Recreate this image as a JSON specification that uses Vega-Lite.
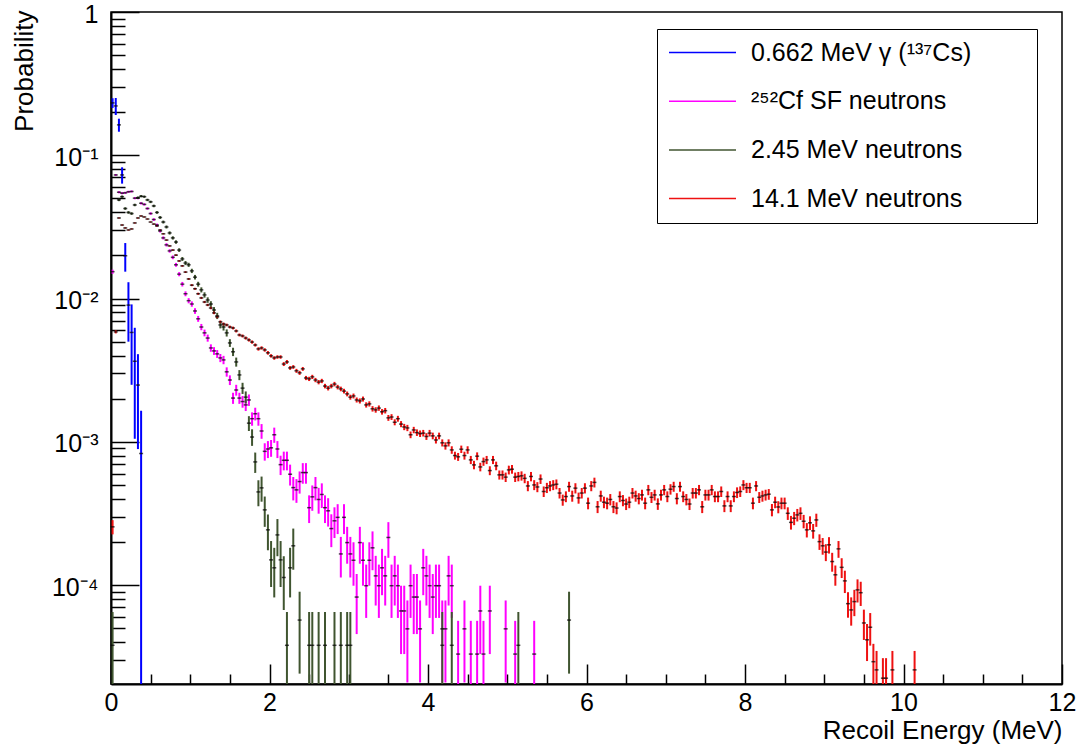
{
 "$schema": "https://vega.github.io/schema/vega-lite/v6.json",
 "width": 951, "height": 672,
 "autosize": {"type": "none"},
 "padding": {"left": 111, "top": 12, "right": 15, "bottom": 64},
 "background": "white",
 "config": {
  "font": "Liberation Sans",
  "view": {"stroke": "black", "strokeWidth": 1.5},
  "axis": {"grid": false, "domainColor": "black", "tickColor": "black", "labelColor": "black", "titleColor": "black", "labelFont": "Liberation Sans", "titleFont": "Liberation Sans", "titleFontWeight": "normal"}
 },
 "data": {"values": [
{"s":"g","x":0.02,"y":0.232,"e":0.018},
{"s":"g","x":0.06,"y":0.221,"e":0.03},
{"s":"g","x":0.1,"y":0.163,"e":0.017},
{"s":"g","x":0.14,"y":0.0729,"e":0.0095},
{"s":"g","x":0.18,"y":0.0199,"e":0.0045},
{"s":"g","x":0.22,"y":0.009,"e":0.004},
{"s":"g","x":0.26,"y":0.0058,"e":0.0033},
{"s":"g","x":0.3,"y":0.00365,"e":0.0026},
{"s":"g","x":0.34,"y":0.00249,"e":0.0016},
{"s":"g","x":0.38,"y":0.00083,"e":0.00082},
{"s":"cf","x":0.02,"y":0.0154,"e":5.0e-4},
{"s":"cf","x":0.06,"y":0.0729,"e":1.1e-3},
{"s":"cf","x":0.1,"y":0.0552,"e":9.5e-4},
{"s":"cf","x":0.14,"y":0.0544,"e":9.5e-4},
{"s":"cf","x":0.18,"y":0.0547,"e":9.5e-4},
{"s":"cf","x":0.22,"y":0.0556,"e":9.6e-4},
{"s":"cf","x":0.26,"y":0.0559,"e":9.6e-4},
{"s":"cf","x":0.3,"y":0.0502,"e":9.1e-4},
{"s":"cf","x":0.34,"y":0.0502,"e":9.1e-4},
{"s":"cf","x":0.38,"y":0.0462,"e":8.7e-4},
{"s":"cf","x":0.42,"y":0.0454,"e":8.7e-4},
{"s":"cf","x":0.46,"y":0.0425,"e":8.4e-4},
{"s":"cf","x":0.5,"y":0.0392,"e":8.0e-4},
{"s":"cf","x":0.54,"y":0.0356,"e":7.7e-4},
{"s":"cf","x":0.58,"y":0.0326,"e":7.3e-4},
{"s":"cf","x":0.62,"y":0.0296,"e":7.0e-4},
{"s":"cf","x":0.66,"y":0.0265,"e":6.6e-4},
{"s":"cf","x":0.7,"y":0.0237,"e":6.3e-4},
{"s":"cf","x":0.74,"y":0.0215,"e":6.0e-4},
{"s":"cf","x":0.78,"y":0.0194,"e":5.7e-4},
{"s":"cf","x":0.82,"y":0.0172,"e":5.3e-4},
{"s":"cf","x":0.86,"y":0.0148,"e":4.9e-4},
{"s":"cf","x":0.9,"y":0.0126,"e":4.6e-4},
{"s":"cf","x":0.94,"y":0.0108,"e":4.2e-4},
{"s":"cf","x":0.98,"y":0.00966,"e":4.0e-4},
{"s":"cf","x":1.02,"y":0.00916,"e":3.9e-4},
{"s":"cf","x":1.06,"y":0.00819,"e":3.7e-4},
{"s":"cf","x":1.1,"y":0.00722,"e":3.4e-4},
{"s":"cf","x":1.14,"y":0.00633,"e":3.2e-4},
{"s":"cf","x":1.18,"y":0.00576,"e":3.1e-4},
{"s":"cf","x":1.22,"y":0.0053,"e":3.0e-4},
{"s":"cf","x":1.26,"y":0.00452,"e":2.7e-4},
{"s":"cf","x":1.3,"y":0.00431,"e":2.7e-4},
{"s":"cf","x":1.34,"y":0.00411,"e":2.6e-4},
{"s":"cf","x":1.38,"y":0.00385,"e":2.5e-4},
{"s":"cf","x":1.42,"y":0.00373,"e":2.5e-4},
{"s":"cf","x":1.46,"y":0.00308,"e":2.3e-4},
{"s":"cf","x":1.5,"y":0.0027,"e":2.1e-4},
{"s":"cf","x":1.54,"y":0.00202,"e":1.8e-4},
{"s":"cf","x":1.58,"y":0.0023,"e":2.0e-4},
{"s":"cf","x":1.62,"y":0.00202,"e":1.8e-4},
{"s":"cf","x":1.66,"y":0.00191,"e":1.8e-4},
{"s":"cf","x":1.7,"y":0.00181,"e":1.7e-4},
{"s":"cf","x":1.74,"y":0.00196,"e":1.8e-4},
{"s":"cf","x":1.78,"y":0.00145,"e":1.55e-4},
{"s":"cf","x":1.82,"y":0.00157,"e":1.6e-4},
{"s":"cf","x":1.86,"y":0.00145,"e":1.55e-4},
{"s":"cf","x":1.9,"y":0.00119,"e":1.4e-4},
{"s":"cf","x":1.94,"y":8.58e-4,"e":1.19e-4},
{"s":"cf","x":1.98,"y":8.91e-4,"e":1.21e-4},
{"s":"cf","x":2.02,"y":9.08e-4,"e":1.22e-4},
{"s":"cf","x":2.06,"y":0.00112,"e":1.36e-4},
{"s":"cf","x":2.1,"y":8.91e-4,"e":1.21e-4},
{"s":"cf","x":2.14,"y":6.93e-4,"e":1.07e-4},
{"s":"cf","x":2.18,"y":7.43e-4,"e":1.11e-4},
{"s":"cf","x":2.22,"y":7.43e-4,"e":1.11e-4},
{"s":"cf","x":2.26,"y":5.94e-4,"e":9.9e-5},
{"s":"cf","x":2.3,"y":4.79e-4,"e":8.9e-5},
{"s":"cf","x":2.34,"y":4.62e-4,"e":8.7e-5},
{"s":"cf","x":2.38,"y":5.28e-4,"e":9.3e-5},
{"s":"cf","x":2.42,"y":6.1e-4,"e":1.0e-4},
{"s":"cf","x":2.46,"y":6.1e-4,"e":1.0e-4},
{"s":"cf","x":2.5,"y":3.47e-4,"e":7.6e-5},
{"s":"cf","x":2.54,"y":4.13e-4,"e":8.3e-5},
{"s":"cf","x":2.58,"y":4.79e-4,"e":8.9e-5},
{"s":"cf","x":2.62,"y":3.96e-4,"e":8.1e-5},
{"s":"cf","x":2.66,"y":4.29e-4,"e":8.4e-5},
{"s":"cf","x":2.7,"y":3.47e-4,"e":7.6e-5},
{"s":"cf","x":2.74,"y":3.3e-4,"e":7.4e-5},
{"s":"cf","x":2.78,"y":2.48e-4,"e":6.4e-5},
{"s":"cf","x":2.82,"y":2.81e-4,"e":6.8e-5},
{"s":"cf","x":2.86,"y":2.97e-4,"e":7.0e-5},
{"s":"cf","x":2.9,"y":1.65e-4,"e":5.2e-5},
{"s":"cf","x":2.94,"y":2.97e-4,"e":7.0e-5},
{"s":"cf","x":2.98,"y":1.98e-4,"e":5.7e-5},
{"s":"cf","x":3.02,"y":1.65e-4,"e":5.2e-5},
{"s":"cf","x":3.06,"y":1.49e-4,"e":5.0e-5},
{"s":"cf","x":3.1,"y":8.25e-5,"e":3.7e-5},
{"s":"cf","x":3.14,"y":1.98e-4,"e":5.7e-5},
{"s":"cf","x":3.18,"y":1.49e-4,"e":5.0e-5},
{"s":"cf","x":3.22,"y":9.9e-5,"e":4.0e-5},
{"s":"cf","x":3.26,"y":1.49e-4,"e":5.0e-5},
{"s":"cf","x":3.3,"y":1.82e-4,"e":5.5e-5},
{"s":"cf","x":3.34,"y":1.16e-4,"e":4.4e-5},
{"s":"cf","x":3.38,"y":9.9e-5,"e":4.0e-5},
{"s":"cf","x":3.42,"y":1.32e-4,"e":4.7e-5},
{"s":"cf","x":3.46,"y":1.16e-4,"e":4.4e-5},
{"s":"cf","x":3.5,"y":2.15e-4,"e":6.0e-5},
{"s":"cf","x":3.54,"y":9.9e-5,"e":4.0e-5},
{"s":"cf","x":3.58,"y":1.16e-4,"e":4.4e-5},
{"s":"cf","x":3.62,"y":9.9e-5,"e":4.0e-5},
{"s":"cf","x":3.66,"y":6.6e-5,"e":3.3e-5},
{"s":"cf","x":3.7,"y":6.6e-5,"e":3.3e-5},
{"s":"cf","x":3.74,"y":4.95e-5,"e":2.86e-5},
{"s":"cf","x":3.78,"y":9.9e-5,"e":4.0e-5},
{"s":"cf","x":3.82,"y":8.25e-5,"e":3.7e-5},
{"s":"cf","x":3.86,"y":8.25e-5,"e":3.7e-5},
{"s":"cf","x":3.9,"y":4.95e-5,"e":2.86e-5},
{"s":"cf","x":3.94,"y":1.32e-4,"e":4.7e-5},
{"s":"cf","x":3.98,"y":1.16e-4,"e":4.4e-5},
{"s":"cf","x":4.02,"y":9.9e-5,"e":4.0e-5},
{"s":"cf","x":4.06,"y":8.25e-5,"e":3.7e-5},
{"s":"cf","x":4.1,"y":9.9e-5,"e":4.0e-5},
{"s":"cf","x":4.14,"y":9.9e-5,"e":4.0e-5},
{"s":"cf","x":4.18,"y":4.95e-5,"e":2.86e-5},
{"s":"cf","x":4.22,"y":4.95e-5,"e":2.86e-5},
{"s":"cf","x":4.26,"y":1.16e-4,"e":4.4e-5},
{"s":"cf","x":4.3,"y":9.9e-5,"e":4.0e-5},
{"s":"cf","x":4.38,"y":3.3e-5,"e":2.33e-5},
{"s":"cf","x":4.46,"y":4.95e-5,"e":2.86e-5},
{"s":"cf","x":4.54,"y":3.3e-5,"e":2.33e-5},
{"s":"cf","x":4.62,"y":3.3e-5,"e":2.33e-5},
{"s":"cf","x":4.66,"y":6.6e-5,"e":3.3e-5},
{"s":"cf","x":4.7,"y":3.3e-5,"e":2.33e-5},
{"s":"cf","x":4.78,"y":6.6e-5,"e":3.3e-5},
{"s":"cf","x":4.98,"y":4.95e-5,"e":2.86e-5},
{"s":"cf","x":5.1,"y":3.3e-5,"e":2.33e-5},
{"s":"cf","x":5.34,"y":3.3e-5,"e":2.33e-5},
{"s":"n2","x":0.02,"y":3.8e-5,"e":2.69e-5},
{"s":"n2","x":0.1,"y":0.0488,"e":9.6e-4},
{"s":"n2","x":0.14,"y":0.0514,"e":9.9e-4},
{"s":"n2","x":0.18,"y":0.0425,"e":9.0e-4},
{"s":"n2","x":0.22,"y":0.0399,"e":8.7e-4},
{"s":"n2","x":0.26,"y":0.0392,"e":8.6e-4},
{"s":"n2","x":0.3,"y":0.045,"e":9.2e-4},
{"s":"n2","x":0.34,"y":0.0506,"e":9.8e-4},
{"s":"n2","x":0.38,"y":0.0518,"e":9.9e-4},
{"s":"n2","x":0.42,"y":0.0514,"e":9.9e-4},
{"s":"n2","x":0.46,"y":0.0488,"e":9.6e-4},
{"s":"n2","x":0.5,"y":0.0473,"e":9.5e-4},
{"s":"n2","x":0.54,"y":0.0443,"e":9.2e-4},
{"s":"n2","x":0.58,"y":0.0399,"e":8.7e-4},
{"s":"n2","x":0.62,"y":0.0368,"e":8.4e-4},
{"s":"n2","x":0.66,"y":0.0342,"e":8.1e-4},
{"s":"n2","x":0.7,"y":0.0316,"e":7.7e-4},
{"s":"n2","x":0.74,"y":0.0287,"e":7.4e-4},
{"s":"n2","x":0.78,"y":0.0265,"e":7.1e-4},
{"s":"n2","x":0.82,"y":0.0248,"e":6.9e-4},
{"s":"n2","x":0.86,"y":0.0218,"e":6.4e-4},
{"s":"n2","x":0.9,"y":0.0189,"e":6.0e-4},
{"s":"n2","x":0.94,"y":0.0177,"e":5.8e-4},
{"s":"n2","x":0.98,"y":0.0172,"e":5.7e-4},
{"s":"n2","x":1.02,"y":0.0156,"e":5.4e-4},
{"s":"n2","x":1.06,"y":0.0141,"e":5.2e-4},
{"s":"n2","x":1.1,"y":0.0126,"e":4.9e-4},
{"s":"n2","x":1.14,"y":0.0115,"e":4.7e-4},
{"s":"n2","x":1.18,"y":0.0106,"e":4.5e-4},
{"s":"n2","x":1.22,"y":0.00977,"e":4.3e-4},
{"s":"n2","x":1.26,"y":0.00916,"e":4.2e-4},
{"s":"n2","x":1.3,"y":0.00832,"e":4.0e-4},
{"s":"n2","x":1.34,"y":0.00757,"e":3.8e-4},
{"s":"n2","x":1.38,"y":0.00654,"e":3.5e-4},
{"s":"n2","x":1.42,"y":0.00633,"e":3.5e-4},
{"s":"n2","x":1.46,"y":0.00576,"e":3.3e-4},
{"s":"n2","x":1.5,"y":0.0049,"e":3.05e-4},
{"s":"n2","x":1.54,"y":0.00425,"e":2.84e-4},
{"s":"n2","x":1.58,"y":0.00361,"e":2.62e-4},
{"s":"n2","x":1.62,"y":0.00293,"e":2.36e-4},
{"s":"n2","x":1.66,"y":0.00237,"e":2.12e-4},
{"s":"n2","x":1.7,"y":0.00205,"e":1.97e-4},
{"s":"n2","x":1.74,"y":0.00135,"e":1.6e-4},
{"s":"n2","x":1.78,"y":0.00108,"e":1.43e-4},
{"s":"n2","x":1.82,"y":7.24e-4,"e":1.17e-4},
{"s":"n2","x":1.86,"y":4.47e-4,"e":9.2e-5},
{"s":"n2","x":1.9,"y":4.77e-4,"e":9.5e-5},
{"s":"n2","x":1.94,"y":3.35e-4,"e":8.0e-5},
{"s":"n2","x":1.98,"y":2.43e-4,"e":6.8e-5},
{"s":"n2","x":2.02,"y":1.5e-4,"e":5.3e-5},
{"s":"n2","x":2.06,"y":1.32e-4,"e":5.0e-5},
{"s":"n2","x":2.1,"y":2.24e-4,"e":6.5e-5},
{"s":"n2","x":2.14,"y":1.5e-4,"e":5.3e-5},
{"s":"n2","x":2.18,"y":1.13e-4,"e":4.6e-5},
{"s":"n2","x":2.22,"y":3.8e-5,"e":2.69e-5},
{"s":"n2","x":2.26,"y":1.32e-4,"e":5.0e-5},
{"s":"n2","x":2.3,"y":1.88e-4,"e":6.0e-5},
{"s":"n2","x":2.38,"y":5.7e-5,"e":3.29e-5},
{"s":"n2","x":2.5,"y":3.8e-5,"e":2.69e-5},
{"s":"n2","x":2.54,"y":3.8e-5,"e":2.69e-5},
{"s":"n2","x":2.62,"y":3.8e-5,"e":2.69e-5},
{"s":"n2","x":2.7,"y":3.8e-5,"e":2.69e-5},
{"s":"n2","x":2.82,"y":3.8e-5,"e":2.69e-5},
{"s":"n2","x":2.9,"y":3.8e-5,"e":2.69e-5},
{"s":"n2","x":2.98,"y":3.8e-5,"e":2.69e-5},
{"s":"n2","x":3.02,"y":3.8e-5,"e":2.69e-5},
{"s":"n2","x":4.18,"y":3.8e-5,"e":2.69e-5},
{"s":"n2","x":4.3,"y":3.8e-5,"e":2.69e-5},
{"s":"n2","x":5.14,"y":3.8e-5,"e":2.69e-5},
{"s":"n2","x":5.78,"y":5.7e-5,"e":3.29e-5},
{"s":"n14","x":0.02,"y":2.55e-4,"e":2.9e-5},
{"s":"n14","x":0.06,"y":5.85e-3,"e":1.4e-4},
{"s":"n14","x":0.1,"y":0.0365,"e":3.4e-4},
{"s":"n14","x":0.14,"y":0.0326,"e":3.2e-4},
{"s":"n14","x":0.18,"y":0.0311,"e":3.2e-4},
{"s":"n14","x":0.22,"y":0.0301,"e":3.1e-4},
{"s":"n14","x":0.26,"y":0.0306,"e":3.1e-4},
{"s":"n14","x":0.3,"y":0.0337,"e":3.3e-4},
{"s":"n14","x":0.34,"y":0.0365,"e":3.4e-4},
{"s":"n14","x":0.38,"y":0.0377,"e":3.5e-4},
{"s":"n14","x":0.42,"y":0.0371,"e":3.4e-4},
{"s":"n14","x":0.46,"y":0.0359,"e":3.4e-4},
{"s":"n14","x":0.5,"y":0.0342,"e":3.3e-4},
{"s":"n14","x":0.54,"y":0.0331,"e":3.3e-4},
{"s":"n14","x":0.58,"y":0.0321,"e":3.2e-4},
{"s":"n14","x":0.62,"y":0.0301,"e":3.1e-4},
{"s":"n14","x":0.66,"y":0.0283,"e":3.0e-4},
{"s":"n14","x":0.7,"y":0.0256,"e":2.9e-4},
{"s":"n14","x":0.74,"y":0.0233,"e":2.7e-4},
{"s":"n14","x":0.78,"y":0.0218,"e":2.6e-4},
{"s":"n14","x":0.82,"y":0.0201,"e":2.5e-4},
{"s":"n14","x":0.86,"y":0.0183,"e":2.4e-4},
{"s":"n14","x":0.9,"y":0.0169,"e":2.3e-4},
{"s":"n14","x":0.94,"y":0.0153,"e":2.2e-4},
{"s":"n14","x":0.98,"y":0.0137,"e":2.1e-4},
{"s":"n14","x":1.02,"y":0.0124,"e":2.0e-4},
{"s":"n14","x":1.06,"y":0.0117,"e":1.9e-4},
{"s":"n14","x":1.1,"y":0.0108,"e":1.9e-4},
{"s":"n14","x":1.14,"y":0.0101,"e":1.8e-4},
{"s":"n14","x":1.18,"y":0.00946,"e":1.7e-4},
{"s":"n14","x":1.22,"y":0.00902,"e":1.7e-4},
{"s":"n14","x":1.26,"y":0.00859,"e":1.7e-4},
{"s":"n14","x":1.3,"y":0.00794,"e":1.6e-4},
{"s":"n14","x":1.34,"y":0.00745,"e":1.5e-4},
{"s":"n14","x":1.38,"y":0.00688,"e":1.5e-4},
{"s":"n14","x":1.42,"y":0.00665,"e":1.5e-4},
{"s":"n14","x":1.46,"y":0.00654,"e":1.4e-4},
{"s":"n14","x":1.5,"y":0.00633,"e":1.4e-4},
{"s":"n14","x":1.54,"y":0.00623,"e":1.4e-4},
{"s":"n14","x":1.58,"y":0.00594,"e":1.4e-4},
{"s":"n14","x":1.62,"y":0.00557,"e":1.3e-4},
{"s":"n14","x":1.66,"y":0.00548,"e":1.3e-4},
{"s":"n14","x":1.7,"y":0.0053,"e":1.3e-4},
{"s":"n14","x":1.74,"y":0.00514,"e":1.3e-4},
{"s":"n14","x":1.78,"y":0.00497,"e":1.3e-4},
{"s":"n14","x":1.82,"y":0.00474,"e":1.2e-4},
{"s":"n14","x":1.86,"y":0.00445,"e":1.2e-4},
{"s":"n14","x":1.9,"y":0.00452,"e":1.2e-4},
{"s":"n14","x":1.94,"y":0.00438,"e":1.2e-4},
{"s":"n14","x":1.98,"y":0.00418,"e":1.2e-4},
{"s":"n14","x":2.02,"y":0.00398,"e":1.1e-4},
{"s":"n14","x":2.06,"y":0.00385,"e":1.1e-4},
{"s":"n14","x":2.1,"y":0.00391,"e":1.1e-4},
{"s":"n14","x":2.14,"y":0.00391,"e":1.1e-4},
{"s":"n14","x":2.18,"y":0.00349,"e":1.1e-4},
{"s":"n14","x":2.22,"y":0.00361,"e":1.1e-4},
{"s":"n14","x":2.26,"y":0.00328,"e":1.0e-4},
{"s":"n14","x":2.3,"y":0.00333,"e":1.0e-4},
{"s":"n14","x":2.34,"y":0.00313,"e":1.0e-4},
{"s":"n14","x":2.38,"y":0.00303,"e":9.8e-5},
{"s":"n14","x":2.42,"y":0.00323,"e":1.0e-4},
{"s":"n14","x":2.46,"y":0.00279,"e":9.4e-5},
{"s":"n14","x":2.5,"y":0.00275,"e":9.4e-5},
{"s":"n14","x":2.54,"y":0.00284,"e":9.5e-5},
{"s":"n14","x":2.58,"y":0.0027,"e":9.3e-5},
{"s":"n14","x":2.62,"y":0.00261,"e":9.1e-5},
{"s":"n14","x":2.66,"y":0.00266,"e":9.2e-5},
{"s":"n14","x":2.7,"y":0.00245,"e":8.9e-5},
{"s":"n14","x":2.74,"y":0.00237,"e":8.7e-5},
{"s":"n14","x":2.78,"y":0.00245,"e":8.9e-5},
{"s":"n14","x":2.82,"y":0.00253,"e":9.0e-5},
{"s":"n14","x":2.86,"y":0.00241,"e":8.8e-5},
{"s":"n14","x":2.9,"y":0.00234,"e":8.7e-5},
{"s":"n14","x":2.94,"y":0.00226,"e":8.5e-5},
{"s":"n14","x":2.98,"y":0.00216,"e":8.3e-5},
{"s":"n14","x":3.02,"y":0.00205,"e":8.1e-5},
{"s":"n14","x":3.06,"y":0.00209,"e":8.2e-5},
{"s":"n14","x":3.1,"y":0.00196,"e":7.9e-5},
{"s":"n14","x":3.14,"y":0.00193,"e":7.9e-5},
{"s":"n14","x":3.18,"y":0.00199,"e":8.0e-5},
{"s":"n14","x":3.22,"y":0.00181,"e":7.6e-5},
{"s":"n14","x":3.26,"y":0.00184,"e":7.7e-5},
{"s":"n14","x":3.3,"y":0.0017,"e":7.4e-5},
{"s":"n14","x":3.34,"y":0.00167,"e":7.3e-5},
{"s":"n14","x":3.38,"y":0.00172,"e":7.4e-5},
{"s":"n14","x":3.42,"y":0.00162,"e":7.2e-5},
{"s":"n14","x":3.46,"y":0.00165,"e":7.3e-5},
{"s":"n14","x":3.5,"y":0.00147,"e":6.9e-5},
{"s":"n14","x":3.54,"y":0.00149,"e":6.9e-5},
{"s":"n14","x":3.58,"y":0.00137,"e":6.6e-5},
{"s":"n14","x":3.62,"y":0.00145,"e":6.8e-5},
{"s":"n14","x":3.66,"y":0.00133,"e":6.5e-5},
{"s":"n14","x":3.7,"y":0.00127,"e":6.4e-5},
{"s":"n14","x":3.74,"y":0.00125,"e":6.3e-5},
{"s":"n14","x":3.78,"y":0.00112,"e":6.0e-5},
{"s":"n14","x":3.82,"y":0.00121,"e":6.2e-5},
{"s":"n14","x":3.86,"y":0.00116,"e":6.1e-5},
{"s":"n14","x":3.9,"y":0.00114,"e":6.0e-5},
{"s":"n14","x":3.94,"y":0.00115,"e":6.1e-5},
{"s":"n14","x":3.98,"y":0.00109,"e":5.9e-5},
{"s":"n14","x":4.02,"y":0.00115,"e":6.1e-5},
{"s":"n14","x":4.06,"y":0.0011,"e":5.9e-5},
{"s":"n14","x":4.1,"y":0.00103,"e":5.7e-5},
{"s":"n14","x":4.14,"y":0.0011,"e":5.9e-5},
{"s":"n14","x":4.18,"y":9.84e-4,"e":5.6e-5},
{"s":"n14","x":4.22,"y":9.37e-4,"e":5.5e-5},
{"s":"n14","x":4.26,"y":9.84e-4,"e":5.6e-5},
{"s":"n14","x":4.3,"y":8.78e-4,"e":5.3e-5},
{"s":"n14","x":4.34,"y":8.02e-4,"e":5.1e-5},
{"s":"n14","x":4.38,"y":7.86e-4,"e":5.0e-5},
{"s":"n14","x":4.42,"y":8.88e-4,"e":5.3e-5},
{"s":"n14","x":4.46,"y":8.02e-4,"e":5.1e-5},
{"s":"n14","x":4.5,"y":8.78e-4,"e":5.3e-5},
{"s":"n14","x":4.54,"y":7.48e-4,"e":4.9e-5},
{"s":"n14","x":4.58,"y":6.9e-4,"e":4.7e-5},
{"s":"n14","x":4.62,"y":7.94e-4,"e":5.0e-5},
{"s":"n14","x":4.66,"y":6.68e-4,"e":4.6e-5},
{"s":"n14","x":4.7,"y":7.28e-4,"e":4.8e-5},
{"s":"n14","x":4.74,"y":7.48e-4,"e":4.9e-5},
{"s":"n14","x":4.78,"y":6.3e-4,"e":4.5e-5},
{"s":"n14","x":4.82,"y":7.48e-4,"e":4.9e-5},
{"s":"n14","x":4.86,"y":6.8e-4,"e":4.7e-5},
{"s":"n14","x":4.9,"y":5.88e-4,"e":4.3e-5},
{"s":"n14","x":4.94,"y":5.88e-4,"e":4.3e-5},
{"s":"n14","x":4.98,"y":5.67e-4,"e":4.3e-5},
{"s":"n14","x":5.02,"y":6.37e-4,"e":4.5e-5},
{"s":"n14","x":5.06,"y":6.44e-4,"e":4.5e-5},
{"s":"n14","x":5.1,"y":5.67e-4,"e":4.3e-5},
{"s":"n14","x":5.14,"y":5.73e-4,"e":4.3e-5},
{"s":"n14","x":5.18,"y":5.79e-4,"e":4.3e-5},
{"s":"n14","x":5.22,"y":5.56e-4,"e":4.2e-5},
{"s":"n14","x":5.26,"y":4.92e-4,"e":4.0e-5},
{"s":"n14","x":5.3,"y":5.73e-4,"e":4.3e-5},
{"s":"n14","x":5.34,"y":5.0e-4,"e":4.0e-5},
{"s":"n14","x":5.38,"y":4.84e-4,"e":3.9e-5},
{"s":"n14","x":5.42,"y":5.5e-4,"e":4.2e-5},
{"s":"n14","x":5.46,"y":4.5e-4,"e":3.8e-5},
{"s":"n14","x":5.5,"y":4.78e-4,"e":3.9e-5},
{"s":"n14","x":5.54,"y":4.92e-4,"e":4.0e-5},
{"s":"n14","x":5.58,"y":5.0e-4,"e":4.0e-5},
{"s":"n14","x":5.62,"y":5.06e-4,"e":4.0e-5},
{"s":"n14","x":5.66,"y":4.39e-4,"e":3.7e-5},
{"s":"n14","x":5.7,"y":3.93e-4,"e":3.5e-5},
{"s":"n14","x":5.74,"y":4.15e-4,"e":3.6e-5},
{"s":"n14","x":5.78,"y":4.87e-4,"e":3.9e-5},
{"s":"n14","x":5.82,"y":4.19e-4,"e":3.7e-5},
{"s":"n14","x":5.86,"y":4.75e-4,"e":3.9e-5},
{"s":"n14","x":5.9,"y":4.06e-4,"e":3.6e-5},
{"s":"n14","x":5.94,"y":4.39e-4,"e":3.7e-5},
{"s":"n14","x":5.98,"y":4.75e-4,"e":3.9e-5},
{"s":"n14","x":6.02,"y":3.73e-4,"e":3.5e-5},
{"s":"n14","x":6.06,"y":4.92e-4,"e":4.0e-5},
{"s":"n14","x":6.1,"y":5.21e-4,"e":4.1e-5},
{"s":"n14","x":6.14,"y":3.52e-4,"e":3.4e-5},
{"s":"n14","x":6.18,"y":4.19e-4,"e":3.7e-5},
{"s":"n14","x":6.22,"y":3.79e-4,"e":3.5e-5},
{"s":"n14","x":6.26,"y":3.73e-4,"e":3.5e-5},
{"s":"n14","x":6.3,"y":3.96e-4,"e":3.6e-5},
{"s":"n14","x":6.34,"y":3.52e-4,"e":3.4e-5},
{"s":"n14","x":6.38,"y":3.45e-4,"e":3.3e-5},
{"s":"n14","x":6.42,"y":4.15e-4,"e":3.6e-5},
{"s":"n14","x":6.46,"y":3.9e-4,"e":3.5e-5},
{"s":"n14","x":6.5,"y":3.68e-4,"e":3.4e-5},
{"s":"n14","x":6.54,"y":3.79e-4,"e":3.5e-5},
{"s":"n14","x":6.58,"y":4.39e-4,"e":3.7e-5},
{"s":"n14","x":6.62,"y":4.19e-4,"e":3.7e-5},
{"s":"n14","x":6.66,"y":4.02e-4,"e":3.6e-5},
{"s":"n14","x":6.7,"y":4.26e-4,"e":3.7e-5},
{"s":"n14","x":6.74,"y":3.73e-4,"e":3.5e-5},
{"s":"n14","x":6.78,"y":4.62e-4,"e":3.8e-5},
{"s":"n14","x":6.82,"y":4.1e-4,"e":3.6e-5},
{"s":"n14","x":6.86,"y":4.26e-4,"e":3.7e-5},
{"s":"n14","x":6.9,"y":3.69e-4,"e":3.4e-5},
{"s":"n14","x":6.94,"y":4.26e-4,"e":3.7e-5},
{"s":"n14","x":6.98,"y":4.62e-4,"e":3.8e-5},
{"s":"n14","x":7.02,"y":4.15e-4,"e":3.6e-5},
{"s":"n14","x":7.06,"y":4.67e-4,"e":3.9e-5},
{"s":"n14","x":7.1,"y":4.87e-4,"e":3.9e-5},
{"s":"n14","x":7.14,"y":4.02e-4,"e":3.6e-5},
{"s":"n14","x":7.18,"y":4.87e-4,"e":3.9e-5},
{"s":"n14","x":7.22,"y":4.15e-4,"e":3.6e-5},
{"s":"n14","x":7.26,"y":3.96e-4,"e":3.6e-5},
{"s":"n14","x":7.3,"y":3.68e-4,"e":3.4e-5},
{"s":"n14","x":7.34,"y":4.39e-4,"e":3.7e-5},
{"s":"n14","x":7.38,"y":4.39e-4,"e":3.7e-5},
{"s":"n14","x":7.42,"y":4.62e-4,"e":3.8e-5},
{"s":"n14","x":7.46,"y":3.52e-4,"e":3.4e-5},
{"s":"n14","x":7.5,"y":4.26e-4,"e":3.7e-5},
{"s":"n14","x":7.54,"y":4.26e-4,"e":3.7e-5},
{"s":"n14","x":7.58,"y":4.62e-4,"e":3.8e-5},
{"s":"n14","x":7.62,"y":4.15e-4,"e":3.6e-5},
{"s":"n14","x":7.66,"y":4.15e-4,"e":3.6e-5},
{"s":"n14","x":7.7,"y":4.5e-4,"e":3.8e-5},
{"s":"n14","x":7.74,"y":3.57e-4,"e":3.4e-5},
{"s":"n14","x":7.78,"y":4.15e-4,"e":3.6e-5},
{"s":"n14","x":7.82,"y":3.57e-4,"e":3.4e-5},
{"s":"n14","x":7.86,"y":4.15e-4,"e":3.6e-5},
{"s":"n14","x":7.9,"y":4.43e-4,"e":3.8e-5},
{"s":"n14","x":7.94,"y":4.5e-4,"e":3.8e-5},
{"s":"n14","x":7.98,"y":5.0e-4,"e":4.0e-5},
{"s":"n14","x":8.02,"y":4.78e-4,"e":3.9e-5},
{"s":"n14","x":8.06,"y":4.78e-4,"e":3.9e-5},
{"s":"n14","x":8.1,"y":3.73e-4,"e":3.5e-5},
{"s":"n14","x":8.14,"y":4.92e-4,"e":4.0e-5},
{"s":"n14","x":8.18,"y":4.1e-4,"e":3.6e-5},
{"s":"n14","x":8.22,"y":4.19e-4,"e":3.7e-5},
{"s":"n14","x":8.26,"y":4.26e-4,"e":3.7e-5},
{"s":"n14","x":8.3,"y":4.31e-4,"e":3.7e-5},
{"s":"n14","x":8.34,"y":3.35e-4,"e":3.3e-5},
{"s":"n14","x":8.38,"y":3.79e-4,"e":3.5e-5},
{"s":"n14","x":8.42,"y":3.51e-4,"e":3.4e-5},
{"s":"n14","x":8.46,"y":3.73e-4,"e":3.5e-5},
{"s":"n14","x":8.5,"y":3.73e-4,"e":3.5e-5},
{"s":"n14","x":8.54,"y":3.17e-4,"e":3.2e-5},
{"s":"n14","x":8.58,"y":2.74e-4,"e":3.0e-5},
{"s":"n14","x":8.62,"y":2.93e-4,"e":3.1e-5},
{"s":"n14","x":8.66,"y":3.09e-4,"e":3.1e-5},
{"s":"n14","x":8.7,"y":3.17e-4,"e":3.2e-5},
{"s":"n14","x":8.74,"y":2.79e-4,"e":3.0e-5},
{"s":"n14","x":8.78,"y":2.43e-4,"e":2.8e-5},
{"s":"n14","x":8.82,"y":2.72e-4,"e":3.0e-5},
{"s":"n14","x":8.86,"y":2.39e-4,"e":2.8e-5},
{"s":"n14","x":8.9,"y":2.85e-4,"e":3.0e-5},
{"s":"n14","x":8.94,"y":2.01e-4,"e":2.5e-5},
{"s":"n14","x":8.98,"y":1.88e-4,"e":2.5e-5},
{"s":"n14","x":9.02,"y":1.7e-4,"e":2.3e-5},
{"s":"n14","x":9.06,"y":1.91e-4,"e":2.5e-5},
{"s":"n14","x":9.1,"y":1.46e-4,"e":2.2e-5},
{"s":"n14","x":9.14,"y":1.18e-4,"e":1.9e-5},
{"s":"n14","x":9.18,"y":1.79e-4,"e":2.4e-5},
{"s":"n14","x":9.22,"y":1.33e-4,"e":2.1e-5},
{"s":"n14","x":9.26,"y":1.07e-4,"e":1.9e-5},
{"s":"n14","x":9.3,"y":7.42e-5,"e":1.5e-5},
{"s":"n14","x":9.34,"y":6.71e-5,"e":1.5e-5},
{"s":"n14","x":9.38,"y":7.67e-5,"e":1.6e-5},
{"s":"n14","x":9.42,"y":9.26e-5,"e":1.7e-5},
{"s":"n14","x":9.46,"y":8.85e-5,"e":1.7e-5},
{"s":"n14","x":9.5,"y":5.44e-5,"e":1.3e-5},
{"s":"n14","x":9.54,"y":4.15e-5,"e":1.2e-5},
{"s":"n14","x":9.58,"y":5.08e-5,"e":1.3e-5},
{"s":"n14","x":9.62,"y":2.92e-5,"e":9.7e-6},
{"s":"n14","x":9.66,"y":2.56e-5,"e":9.1e-6},
{"s":"n14","x":9.74,"y":2.24e-5,"e":8.5e-6},
{"s":"n14","x":9.78,"y":2.24e-5,"e":8.5e-6},
{"s":"n14","x":9.86,"y":2.56e-5,"e":9.1e-6},
{"s":"n14","x":10.14,"y":2.56e-5,"e":9.1e-6}
 ]},
 "layer": [
  {
   "mark": {"type": "errorbar", "thickness": 2, "ticks": false},
   "encoding": {
    "x": {"field": "x", "type": "quantitative",
     "scale": {"domain": [0, 12], "nice": false, "zero": false},
     "axis": {"orient": "bottom", "values": [0, 2, 4, 6, 8, 10, 12], "format": "d", "tickSize": -20, "tickWidth": 1.5, "domainWidth": 2,
      "labelFontSize": 25, "labelPadding": 26, "labelFlush": false, "labelOverlap": false,
      "title": "Recoil Energy (MeV)", "titleFontSize": 26, "titleAlign": "right", "titleAnchor": "end", "titleX": 951, "titleY": 54, "titleBaseline": "alphabetic"}},
    "y": {"field": "y", "type": "quantitative",
     "scale": {"type": "log", "domain": [2.04e-5, 1], "nice": false, "clamp": true},
     "axis": {"orient": "left", "values": [0.0001, 0.001, 0.01, 0.1, 1], "tickSize": -28, "tickWidth": 1.5, "domainWidth": 2,
      "labelFontSize": 25, "labelPadding": 41, "labelOffset": 2, "labelOverlap": false,
      "labelExpr": "datum.value > 0.5 ? '1' : datum.value > 0.05 ? '10\u207b\u00b9' : datum.value > 0.005 ? '10\u207b\u00b2' : datum.value > 0.0005 ? '10\u207b\u00b3' : '10\u207b\u2074'",
      "title": "Probability", "titleFontSize": 26, "titleAngle": 270, "titleAlign": "right", "titleAnchor": "end", "titleX": -79, "titleY": -2, "titleBaseline": "alphabetic"}},
    "yError": {"field": "e"},
    "color": {"field": "s", "type": "nominal",
     "scale": {"domain": ["g", "cf", "n2", "n14"], "range": ["#0000ff", "#ff00ff", "#405530", "#ee1111"]},
     "legend": {"orient": "none", "legendX": 546, "legendY": 17, "title": null,
      "symbolType": "stroke", "symbolSize": 4489, "symbolStrokeWidth": 1.5,
      "labelFontSize": 25, "labelFont": "Liberation Sans", "labelColor": "black", "labelLimit": 500, "labelOffset": 14,
      "padding": 11, "rowPadding": 22.7, "clipHeight": 25,
      "strokeColor": "black", "fillColor": "white",
      "labelExpr": "(datum.value == 'g' ? '0.662 MeV \u03b3 (\u00b9\u00b3\u2077Cs)' : datum.value == 'cf' ? '\u00b2\u2075\u00b2Cf SF neutrons' : datum.value == 'n2' ? '2.45 MeV neutrons' : '14.1 MeV neutrons') + '\u2800\u2800\u2800'"}}
   }
  },
  {
   "mark": {"type": "tick", "orient": "horizontal", "color": "black", "size": 4, "thickness": 1.5},
   "encoding": {
    "x": {"field": "x", "type": "quantitative",
     "axis": {"orient": "bottom", "values": [0.5, 1, 1.5, 2.5, 3, 3.5, 4.5, 5, 5.5, 6.5, 7, 7.5, 8.5, 9, 9.5, 10.5, 11, 11.5], "tickSize": -10, "tickWidth": 1.5, "labels": false, "domain": false, "title": null}},
    "y": {"field": "y", "type": "quantitative",
     "axis": {"orient": "left", "values": [3e-5, 4e-5, 5e-5, 6e-5, 7e-5, 8e-5, 9e-5, 2e-4, 3e-4, 4e-4, 5e-4, 6e-4, 7e-4, 8e-4, 9e-4, 0.002, 0.003, 0.004, 0.005, 0.006, 0.007, 0.008, 0.009, 0.02, 0.03, 0.04, 0.05, 0.06, 0.07, 0.08, 0.09, 0.2, 0.3, 0.4, 0.5, 0.6, 0.7, 0.8, 0.9], "tickSize": -14, "tickWidth": 1.5, "labels": false, "domain": false, "title": null}}
   }
  }
 ],
 "resolve": {"axis": {"x": "independent", "y": "independent"}}
}
